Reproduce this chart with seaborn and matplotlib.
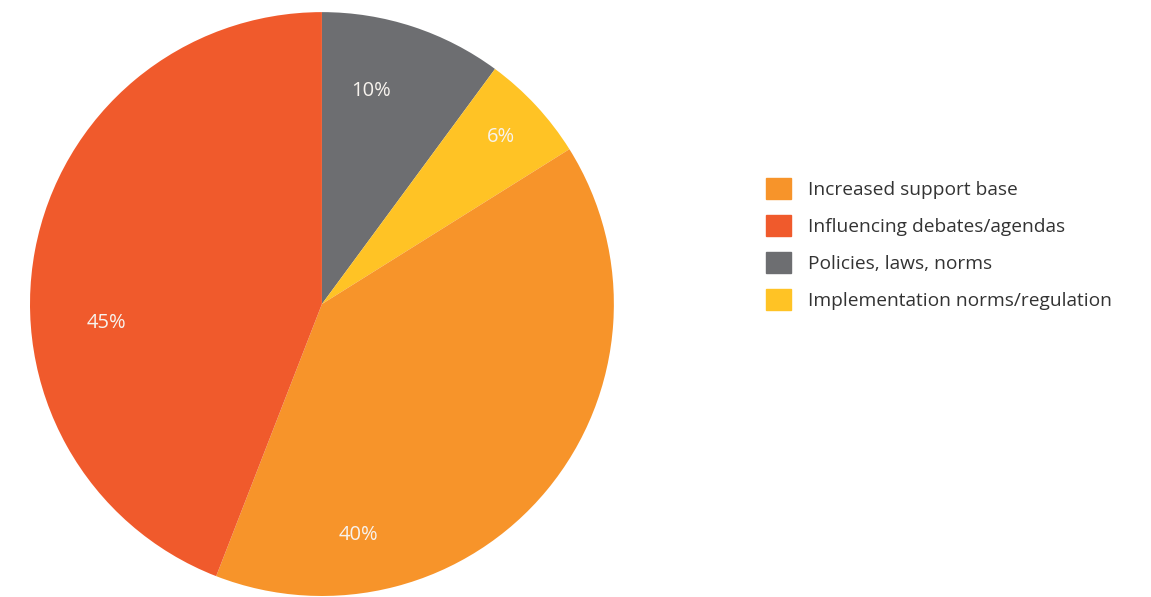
import matplotlib
matplotlib.use("Agg")
import matplotlib.pyplot as plt
import matplotlib.patches as mpatches
import seaborn as sns
import numpy as np

# datos (en sentido horario desde arriba)
categorias = ["Policies, laws, norms", "Implementation norms/regulation",
              "Increased support base", "Influencing debates/agendas"]
valores = [10.1, 6.0, 39.8, 44.1]
etiquetas = ["10%", "6%", "40%", "45%"]
colores = ["#6D6E71", "#FFC325", "#F7942A", "#F05A2C"]

# orden de la leyenda
orden_leyenda = ["Increased support base", "Influencing debates/agendas",
                 "Policies, laws, norms", "Implementation norms/regulation"]

sns.set_theme(style="white")
plt.rcParams['font.family'] = ['Open Sans', 'DejaVu Sans']

fig = plt.figure(figsize=(11.51, 5.97), dpi=100)
ax = fig.add_axes([0.026, 0.0017, 0.5074, 0.978])

cuñas, _ = ax.pie(valores, colors=colores, startangle=90, counterclock=False,
                  radius=1.0, wedgeprops=dict(linewidth=0))

# posicion de las etiquetas (angulo desde arriba en sentido horario, radio)
pos_etiquetas = [(13, 0.75), (47, 0.84), (171, 0.80), (265, 0.74)]
for txt, (ang, r) in zip(etiquetas, pos_etiquetas):
    a = np.deg2rad(90 - ang)
    ax.text(r * np.cos(a), r * np.sin(a), txt, ha="center", va="center",
            color="#F7F3EE", fontsize=14.5)

ax.set_xlim(-1, 1)
ax.set_ylim(-1, 1)
ax.set_aspect("equal")
ax.axis("off")

mapa = dict(zip(categorias, colores))
handles = [mpatches.Patch(color=mapa[c], label=c) for c in orden_leyenda]
fig.legend(handles=handles, loc="center left", bbox_to_anchor=(0.6655, 1 - 244 / 597),
           frameon=False, fontsize=13.8, handlelength=1.30, handleheight=1.30,
           labelspacing=0.85, handletextpad=0.89, borderpad=0, borderaxespad=0,
           labelcolor="#333333")

fig.savefig("out.png", dpi=100)
